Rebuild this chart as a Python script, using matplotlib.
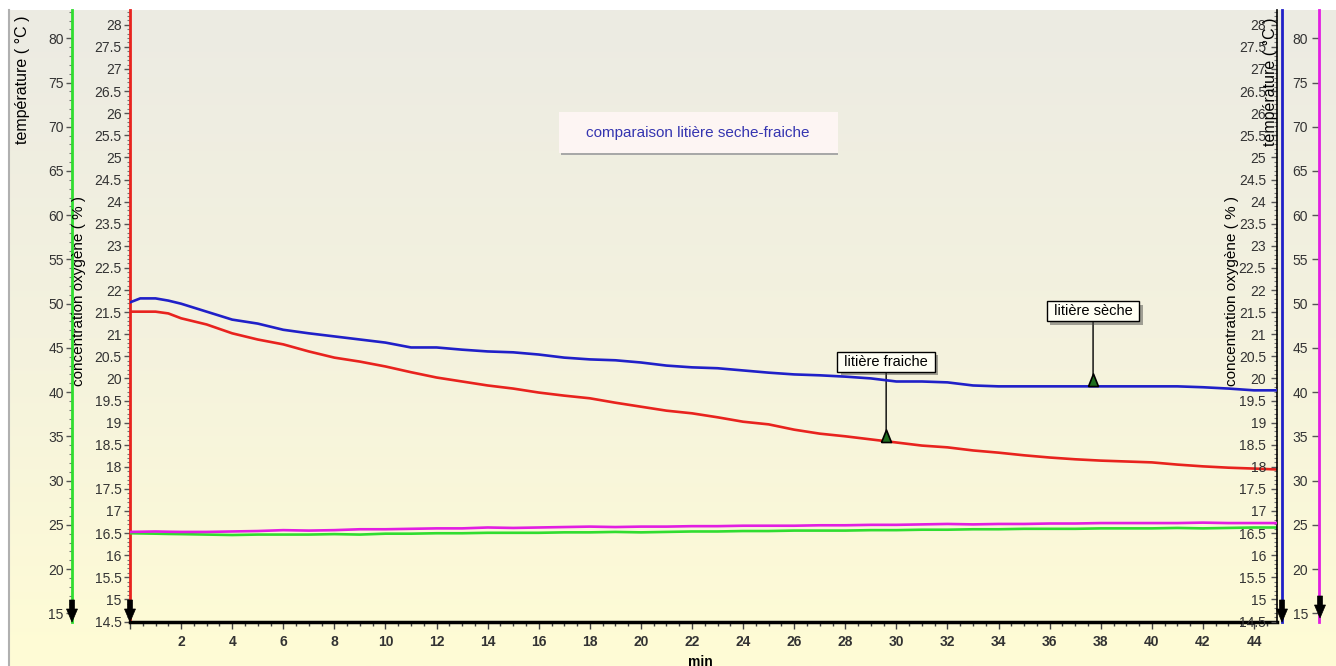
import matplotlib.pyplot as plt
import matplotlib.ticker as mticker
import matplotlib.patheffects as pe
from matplotlib.patches import FancyArrow, Rectangle
from matplotlib.lines import Line2D
from matplotlib.colors import LinearSegmentedColormap
import numpy as np

plt.rcParams['font.family'] = ['Liberation Sans', 'DejaVu Sans']

# time (min)
minutes = [0, 0.4, 1, 1.5] + list(range(2, 45)) + [44.9]

# oxygen concentration (%) - litiere fraiche (red) / seche (blue)
o2_fraiche = [21.51, 21.51, 21.51, 21.47, 21.36, 21.22, 21.02, 20.88, 20.77, 20.61,
              20.47, 20.38, 20.27, 20.14, 20.02, 19.93, 19.84, 19.77, 19.68, 19.61,
              19.55, 19.45, 19.36, 19.27, 19.21, 19.12, 19.02, 18.96, 18.84, 18.75,
              18.69, 18.62, 18.55, 18.48, 18.44, 18.37, 18.32, 18.26, 18.21, 18.17,
              18.14, 18.12, 18.10, 18.05, 18.01, 17.98, 17.96, 17.94]
o2_seche = [21.72, 21.81, 21.81, 21.76, 21.69, 21.51, 21.33, 21.24, 21.10, 21.02,
            20.95, 20.88, 20.81, 20.70, 20.70, 20.65, 20.61, 20.59, 20.54, 20.47,
            20.43, 20.41, 20.36, 20.29, 20.25, 20.23, 20.18, 20.13, 20.09, 20.07,
            20.04, 20.00, 19.93, 19.93, 19.91, 19.84, 19.82, 19.82, 19.82, 19.82,
            19.82, 19.82, 19.82, 19.82, 19.80, 19.77, 19.73, 19.73]

# temperature (degC)
temp_green = [24.05, 24.03, 24.0, 23.97, 23.95, 23.9, 23.85, 23.9, 23.9, 23.9,
              23.95, 23.9, 24.0, 24.0, 24.05, 24.05, 24.1, 24.1, 24.1, 24.15,
              24.15, 24.2, 24.15, 24.2, 24.25, 24.25, 24.3, 24.3, 24.35, 24.35,
              24.35, 24.4, 24.4, 24.45, 24.45, 24.5, 24.5, 24.55, 24.55, 24.55,
              24.6, 24.6, 24.6, 24.65, 24.6, 24.65, 24.7, 24.7]
temp_magenta = [24.2, 24.22, 24.25, 24.22, 24.2, 24.2, 24.25, 24.3, 24.4, 24.35,
                24.4, 24.5, 24.5, 24.55, 24.6, 24.6, 24.7, 24.65, 24.7, 24.75,
                24.8, 24.75, 24.8, 24.8, 24.85, 24.85, 24.9, 24.9, 24.9, 24.95,
                24.95, 25.0, 25.0, 25.05, 25.1, 25.05, 25.1, 25.1, 25.15, 25.15,
                25.2, 25.2, 25.2, 25.2, 25.25, 25.2, 25.2, 25.2]

markers = {"litière fraiche": (29.6, 18.57), "litière sèche": (37.7, 19.82)}

W, H = 1336, 666
RED, BLUE, GREEN, MAG = '#e8231e', '#2020c8', '#30dd30', '#e21ee2'
TXT = '#333333'
FS_TICK = 10
FS_LAB = 11


def fx(px):
    return px / W


def fy(py):
    return 1 - py / H


fig = plt.figure(figsize=(W / 100, H / 100), dpi=100)

# background panel with gradient
bg = fig.add_axes([fx(9), 0, 1 - fx(9), fy(10)])
cmap = LinearSegmentedColormap.from_list('bg', ['#ecebe3', '#f4f2de', '#fffcd5'])
bg.imshow(np.linspace(0, 1, 256).reshape(-1, 1), aspect='auto', cmap=cmap, extent=[0, 1, 0, 1])
bg.axis('off')
fig.add_artist(Line2D([fx(9), fx(9)], [0, fy(10)], color='#b0b0b0', lw=1.5))

# main axes (red oxygen scale)
y_bot, y_top = 621.5, 10
ax = fig.add_axes([fx(130), fy(y_bot), fx(1277) - fx(130), fy(y_top) - fy(y_bot)])
ax.patch.set_alpha(0)
o2_lim = (14.5, 14.5 + (y_bot - y_top) / 44.2)
t_lim = (15 - (y_bot - 613.3) / 8.846, 15 + (613.3 - y_top) / 8.846)

ax.set_xlim(0, 44.9)
ax.set_ylim(*o2_lim)
for s in ['top', 'right']:
    ax.spines[s].set_visible(False)
ax.spines['left'].set_color(RED)
ax.spines['left'].set_linewidth(2)
ax.spines['bottom'].set_color('black')
ax.spines['bottom'].set_linewidth(2.5)

ax.xaxis.set_major_locator(mticker.MultipleLocator(2))
ax.xaxis.set_minor_locator(mticker.MultipleLocator(0.5))
ax.xaxis.set_major_formatter(mticker.FuncFormatter(lambda v, p: '' if v == 0 else '%g' % v))
ax.tick_params(axis='x', which='major', length=5, width=1, color='#444444', pad=5,
               labelsize=FS_TICK, labelcolor=TXT)
ax.tick_params(axis='x', which='minor', length=3, width=1, color='#444444')
for lab in ax.get_xticklabels():
    lab.set_fontweight('bold')

o2_ticks = np.arange(14.5, 28.01, 0.5)
o2_labels = ['%g' % v for v in o2_ticks]
ax.set_yticks(o2_ticks, labels=o2_labels)
ax.yaxis.set_minor_locator(mticker.MultipleLocator(0.1))
ax.tick_params(axis='y', which='major', length=4, width=1, color='#555555', pad=2,
               labelsize=FS_TICK, labelcolor=TXT)
ax.tick_params(axis='y', which='minor', length=2, width=0.8, color='#777777')

ax.plot(minutes, o2_fraiche, color=RED, lw=1.9, zorder=3)

# green temperature axis (left)
ax_g = ax.twinx()
ax_g.set_ylim(*t_lim)
ax_g.yaxis.set_ticks_position('left')
for s in ['top', 'right', 'bottom']:
    ax_g.spines[s].set_visible(False)
ax_g.spines['left'].set_position(('axes', (72 - 130) / 1147))
ax_g.spines['left'].set_color(GREEN)
ax_g.spines['left'].set_linewidth(2)
ax_g.set_yticks(np.arange(15, 81, 5))
ax_g.yaxis.set_minor_locator(mticker.MultipleLocator(1))
ax_g.tick_params(axis='y', which='major', length=4, width=1, color='#555555', pad=2,
                 labelsize=FS_TICK, labelcolor=TXT)
ax_g.tick_params(axis='y', which='minor', length=2, width=0.8, color='#777777')
ax_g.plot(minutes, temp_green, color=GREEN, lw=1.9, zorder=3)

# blue oxygen axis (right, labels inside)
ax_b = ax.twinx()
ax_b.set_ylim(*o2_lim)
for s in ['top', 'left', 'bottom']:
    ax_b.spines[s].set_visible(False)
ax_b.spines['right'].set_color('black')
ax_b.spines['right'].set_linewidth(1.2)
ax_b.set_yticks(o2_ticks, labels=o2_labels, ha='right')
ax_b.yaxis.set_minor_locator(mticker.MultipleLocator(0.1))
ax_b.tick_params(axis='y', which='major', direction='in', length=4, width=1, color='#555555',
                 pad=-8, labelsize=FS_TICK, labelcolor=TXT)
ax_b.tick_params(axis='y', which='minor', direction='in', length=2, width=0.8, color='#777777')
ax_b.plot(minutes, o2_seche, color=BLUE, lw=1.9, zorder=3)

# blue axis line
ax_bl = ax.twinx()
ax_bl.set_yticks([])
for s in ['top', 'left', 'bottom']:
    ax_bl.spines[s].set_visible(False)
ax_bl.spines['right'].set_position(('axes', (1282 - 130) / 1147))
ax_bl.spines['right'].set_color(BLUE)
ax_bl.spines['right'].set_linewidth(2)

# magenta temperature axis (far right)
ax_m = ax.twinx()
ax_m.set_ylim(*t_lim)
for s in ['top', 'left', 'bottom']:
    ax_m.spines[s].set_visible(False)
ax_m.spines['right'].set_position(('axes', (1319 - 130) / 1147))
ax_m.spines['right'].set_color(MAG)
ax_m.spines['right'].set_linewidth(2)
t_ticks = np.arange(15, 81, 5)
ax_m.set_yticks(t_ticks, labels=['%d' % v for v in t_ticks], ha='right')
ax_m.tick_params(axis='y', which='major', direction='in', length=5, width=1, color='#555555',
                 pad=-8, labelsize=FS_TICK, labelcolor=TXT)
ax_m.plot(minutes, temp_magenta, color=MAG, lw=1.9, zorder=3)

# markers with callouts (triangle sitting on the curve)
tri = [(-0.8, 0), (0.8, 0), (0, 2), (-0.8, 0)]
for (name, (mx, my)), target, dy in zip(markers.items(), [ax, ax_b], [80, 75]):
    target.plot([mx], [my], marker=tri, ms=18, mfc='#1e6e1e', mec='black', mew=1.2, zorder=5,
                clip_on=False)
    an = target.annotate(' ' + name + ' ', xy=(mx, my), xytext=(0, dy), textcoords='offset pixels',
                         ha='center', va='center', fontsize=10.5, color='black',
                         bbox=dict(boxstyle='square,pad=0.2', fc='#fffff4', ec='black', lw=1),
                         arrowprops=dict(arrowstyle='-', color='black', lw=1, shrinkA=0, shrinkB=8),
                         zorder=6)
    an.get_bbox_patch().set_path_effects([pe.SimplePatchShadow(offset=(2.5, -2.5), alpha=0.5),
                                          pe.Normal()])

# title box
fig.add_artist(Rectangle((fx(561), fy(155)), fx(838) - fx(561), fy(112) - fy(155),
                         fc='#a8a8a8', ec='none'))
fig.add_artist(Rectangle((fx(559), fy(153)), fx(838) - fx(559), fy(112) - fy(153),
                         fc='#fdf5f3', ec='none'))
fig.text(fx(698), fy(133), 'comparaison litière seche-fraiche', ha='center', va='center',
         fontsize=11, color='#3535b0')

# axis titles
fig.text(fx(22), fy(15), 'température ( °C )', rotation=90, ha='center', va='top',
         fontsize=11.5, color='black')
fig.text(fx(79), fy(291), 'concentration oxygène ( % )', rotation=90, ha='center',
         va='center', fontsize=FS_LAB, color='black')
fig.text(fx(1232), fy(291), 'concentration oxygène ( % )', rotation=90, ha='center',
         va='center', fontsize=FS_LAB, color='black')
fig.text(fx(1270), fy(18), 'température ( °C )', rotation=90, ha='center', va='top',
         fontsize=11.5, color='black')
fig.text(fx(700), fy(662), 'min', ha='center', va='center', fontsize=10,
         fontweight='bold', color='black')

# downward arrows at the bottom of each vertical axis
for xa, ytail in [(72, 600), (130, 600), (1282, 600), (1320, 596)]:
    fig.add_artist(FancyArrow(fx(xa), fy(ytail), 0, -22 / H, width=5 / W,
                              head_width=11 / W, head_length=13 / H,
                              length_includes_head=True, fc='black', ec='black', lw=0.5))

fig.savefig('out.png', dpi=100)
